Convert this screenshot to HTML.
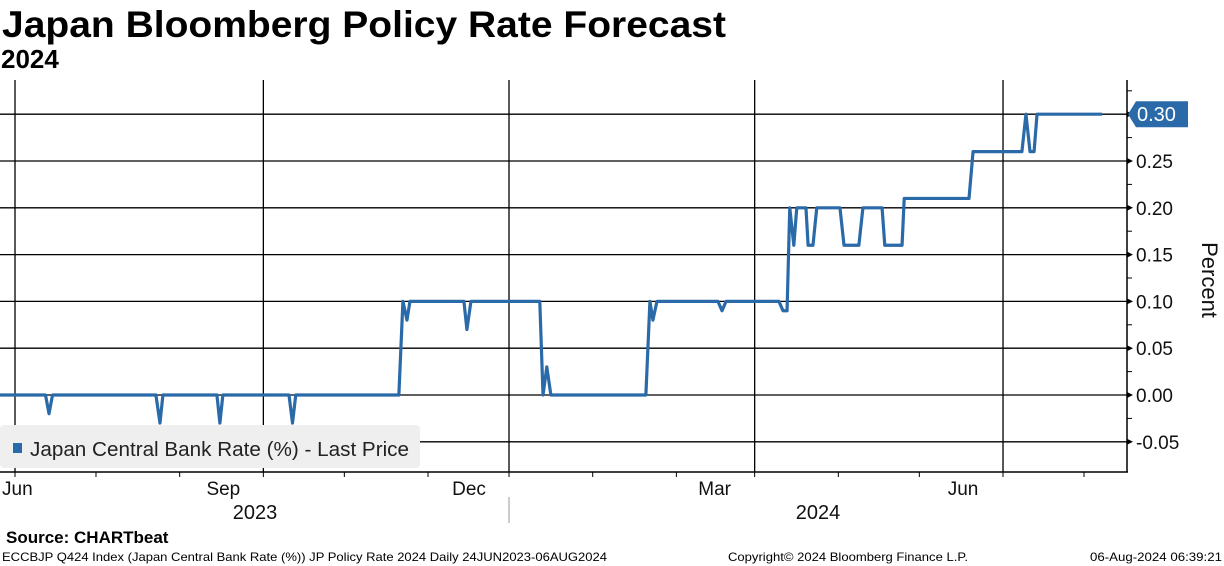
<!DOCTYPE html>
<html><head><meta charset="utf-8"><style>
body{margin:0;background:#fff;width:1224px;height:566px;overflow:hidden}
svg{display:block;font-family:"Liberation Sans",sans-serif}
</style></head><body>
<svg id="c" width="1224" height="566">
<text x="2" y="37" font-size="37" font-weight="bold" textLength="724" lengthAdjust="spacingAndGlyphs">Japan Bloomberg Policy Rate Forecast</text>
<text x="1" y="68" font-size="26" font-weight="bold">2024</text>
<g id="grid"></g>
<rect x="0" y="425" width="420" height="43" rx="4" fill="#efefef"/>
<rect x="13" y="443" width="9" height="10" fill="#2b6aa8"/>
<text x="30" y="456" font-size="20" textLength="379" lengthAdjust="spacingAndGlyphs" fill="#222">Japan Central Bank Rate (%) - Last Price</text>
<g id="series"></g>
<g id="axes"></g>
<text transform="translate(1202,280) rotate(90)" font-size="22" text-anchor="middle" fill="#111">Percent</text>
<text x="6" y="543" font-size="17" font-weight="bold">Source: CHARTbeat</text>
<text x="2" y="561" font-size="12" textLength="605" lengthAdjust="spacingAndGlyphs">ECCBJP Q424 Index (Japan Central Bank Rate (%)) JP Policy Rate 2024  Daily 24JUN2023-06AUG2024</text>
<text x="728" y="561" font-size="12" textLength="240" lengthAdjust="spacingAndGlyphs">Copyright© 2024 Bloomberg Finance L.P.</text>
<text x="1222" y="561" font-size="12" text-anchor="end" textLength="132" lengthAdjust="spacingAndGlyphs">06-Aug-2024 06:39:21</text>
</svg>
<script>
// days since 2023-06-01
const days=[-6,11.3,12.6,13.9,52.2,53.7,54.8,74.8,75.9,77,101.5,102.8,104,142.2,143.7,145.2,146.3,166.3,167.4,168.9,194.4,195.6,197,198.5,233.7,235.2,236.3,237.8,260.4,261.9,263.4,283,284.5,286,287,288.5,289.6,293,293.8,295.6,297,305.6,307.1,312.6,314.1,321.2,322.2,328.6,329.4,353.4,354.9,373,374.5,376,377.5,378.6,402.7];
const rates=[0,0,-0.02,0,0,-0.03,0,0,-0.03,0,0,-0.03,0,0,0.10,0.08,0.10,0.10,0.07,0.10,0.10,0,0.03,0,0,0.10,0.08,0.10,0.10,0.09,0.10,0.10,0.09,0.09,0.20,0.16,0.20,0.20,0.16,0.16,0.20,0.20,0.16,0.16,0.20,0.20,0.16,0.16,0.21,0.21,0.26,0.26,0.30,0.26,0.26,0.30,0.30];
const yTicks=[-0.05,0,0.05,0.10,0.15,0.20,0.25,0.30];
const yTickLabels=["-0.05","0.00","0.05","0.10","0.15","0.20","0.25","0.30"];
const quarterDays=[0,92,183,274,366];
const quarterLabels=["Jun","Sep","Dec","Mar","Jun"];
const monthDays=[0,30,61,92,122,153,183,214,245,274,305,335,366,396];
const lastValue=0.30;
const X=d=>15+d*2.6995, Y=v=>395-v*936;
const NS="http://www.w3.org/2000/svg";
function mk(tag,attrs,parent){const e=document.createElementNS(NS,tag);for(const k in attrs)e.setAttribute(k,attrs[k]);parent.appendChild(e);return e;}
const grid=document.getElementById('grid'),axes=document.getElementById('axes'),series=document.getElementById('series');
yTicks.forEach((v,i)=>{
  const l=mk('line',{x1:0,x2:1127,y1:Y(v),y2:Y(v),stroke:'#000','stroke-width':1.3},grid);
  
  
  const t=mk('path',{d:`M1127 ${Y(v)-3}L1133 ${Y(v)}L1127 ${Y(v)+3}Z`,fill:'#000'},axes);
  
  
  const m=mk('line',{x1:1127,x2:1132,y1:Y(v+0.025),y2:Y(v+0.025),stroke:'#000'},axes);
  
  
  if(v<0.29){const tx=mk('text',{x:1136,y:Y(v)+7,'font-size':19,fill:'#111'},axes);tx.textContent=yTickLabels[i];
  
  }
});
quarterDays.forEach((d,i)=>{
  const l=mk('line',{x1:X(d),x2:X(d),y1:80,y2:472,stroke:'#000','stroke-width':1.3},grid);
  
  
  const cx=i===0?2:X(d)-40;
  const t=mk('text',{x:cx,y:495,'font-size':19,'text-anchor':i===0?'start':'middle',fill:'#111'},axes);t.textContent=quarterLabels[i];
  
  
});
monthDays.forEach(d=>{
  const l=mk('line',{x1:X(d),x2:X(d),y1:472,y2:477,stroke:'#000'},axes);
  
  
});
let e=mk('line',{x1:0,x2:1128,y1:472,y2:472,stroke:'#000','stroke-width':1.5},axes);


e=mk('line',{x1:1127,x2:1127,y1:80,y2:472,stroke:'#000','stroke-width':1.5},axes);


e=mk('line',{x1:509,x2:509,y1:497,y2:523,stroke:'#999'},axes);


[["2023",255],["2024",818]].forEach(([s,x])=>{const t=mk('text',{x:x,y:519,'font-size':20,'text-anchor':'middle',fill:'#111'},axes);t.textContent=s;

});
const p=mk('polyline',{points:days.map((d,i)=>X(d)+','+Y(rates[i])).join(' '),fill:'none',stroke:'#2b6aa8','stroke-width':3.2,'stroke-linejoin':'round'},series);


const ly=Y(lastValue);
const tag=mk('path',{d:`M1128 ${ly}L1136 ${ly-13}H1188V${ly+13}H1136Z`,fill:'#2b6aa8'},axes);


const tt=mk('text',{x:1137,y:ly+7,'font-size':20,fill:'#fff'},axes);tt.textContent=lastValue.toFixed(2);


</script>
</body></html>
